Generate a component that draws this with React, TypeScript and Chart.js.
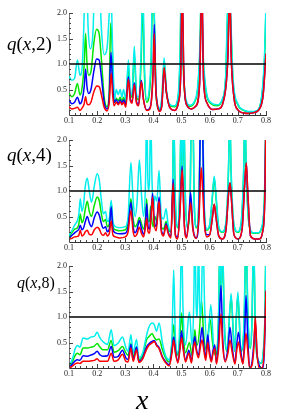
import React, { useEffect, useRef } from "react";
import { Chart, registerables } from "chart.js";
Chart.register(...registerables);

type Pt = [number, number];

const X_MIN = 0.1;
const X_MAX = 0.8;
const Y_MIN = 0;
const Y_MAX = 2;
const X_STEP = 0.1;
const Y_STEP = 0.5;
const REF_LEVEL = 1.0;
const panelParams = ["2", "4", "8"];

// ---------- q(x,2) ----------
const p1Cyan: Pt[] = [[0.100,0.76],[0.110,0.68],[0.120,0.72],[0.130,1.08],[0.139,0.78],[0.147,0.95],[0.153,1.8],[0.157,2.6],[0.163,2.6],[0.168,1.7],[0.176,1.3],[0.185,1.6],[0.192,2.6],[0.208,2.6],[0.215,1.7],[0.225,1.18],[0.235,1.3],[0.243,2.0],[0.248,2.6],[0.255,1.3],[0.262,0.3],[0.268,0.5],[0.275,0.4],[0.282,0.5],[0.288,0.35],[0.294,0.5],[0.302,0.3],[0.311,1.08],[0.318,0.45],[0.324,0.4],[0.332,1.35],[0.340,0.4],[0.347,0.35],[0.356,1.2],[0.362,2.6],[0.368,1.0],[0.376,0.3],[0.385,0.5],[0.392,1.2],[0.397,2.6],[0.403,2.0],[0.410,0.4],[0.420,0.12],[0.430,0.35],[0.438,1.12],[0.446,0.5],[0.460,0.2],[0.475,0.18],[0.488,0.4],[0.495,1.3],[0.499,2.6],[0.505,1.2],[0.514,0.35],[0.530,0.19],[0.545,0.26],[0.558,0.6],[0.566,1.5],[0.570,2.6],[0.576,1.3],[0.587,0.5],[0.605,0.24],[0.625,0.2],[0.645,0.32],[0.657,0.8],[0.663,2.0],[0.668,2.6],[0.674,2.0],[0.683,0.7],[0.700,0.22],[0.720,0.1],[0.740,0.07],[0.758,0.07],[0.775,0.13],[0.787,0.5],[0.795,1.2],[0.800,2.2]];
const p1Green: Pt[] = [[0.100,0.42],[0.110,0.36],[0.120,0.42],[0.130,0.62],[0.139,0.39],[0.147,0.55],[0.154,1.0],[0.159,1.6],[0.164,1.0],[0.170,0.78],[0.178,0.85],[0.188,1.4],[0.198,1.68],[0.207,1.6],[0.215,1.1],[0.225,0.35],[0.235,0.16],[0.243,0.5],[0.248,1.8],[0.253,1.4],[0.258,0.4],[0.262,0.25],[0.268,0.33],[0.275,0.28],[0.282,0.35],[0.288,0.27],[0.294,0.35],[0.302,0.25],[0.311,0.95],[0.318,0.4],[0.324,0.35],[0.332,1.2],[0.340,0.35],[0.347,0.3],[0.356,1.0],[0.362,2.2],[0.368,0.8],[0.376,0.25],[0.385,0.4],[0.392,1.0],[0.397,2.4],[0.403,1.9],[0.410,0.35],[0.420,0.11],[0.430,0.3],[0.438,1.05],[0.446,0.45],[0.460,0.18],[0.475,0.16],[0.488,0.35],[0.495,1.2],[0.499,2.6],[0.505,1.1],[0.514,0.3],[0.530,0.17],[0.545,0.24],[0.558,0.55],[0.566,1.4],[0.570,2.6],[0.576,1.2],[0.587,0.45],[0.605,0.22],[0.625,0.18],[0.645,0.3],[0.657,0.75],[0.663,1.9],[0.668,2.6],[0.674,1.9],[0.683,0.65],[0.700,0.2],[0.720,0.09],[0.740,0.06],[0.758,0.06],[0.775,0.12],[0.787,0.45],[0.795,1.1],[0.800,2.1]];
const p1Blue: Pt[] = [[0.100,0.30],[0.110,0.22],[0.120,0.25],[0.130,0.35],[0.139,0.22],[0.147,0.30],[0.154,0.55],[0.159,0.90],[0.164,0.55],[0.170,0.42],[0.178,0.5],[0.188,0.85],[0.198,1.1],[0.207,1.08],[0.215,0.75],[0.225,0.25],[0.235,0.12],[0.243,0.35],[0.249,1.23],[0.254,0.7],[0.260,0.25],[0.268,0.3],[0.275,0.22],[0.282,0.3],[0.288,0.22],[0.294,0.3],[0.302,0.2],[0.311,0.75],[0.318,0.3],[0.324,0.26],[0.332,0.63],[0.340,0.26],[0.347,0.2],[0.357,0.68],[0.365,0.3],[0.376,0.1],[0.385,0.12],[0.393,0.3],[0.399,0.9],[0.403,1.78],[0.408,0.6],[0.415,0.18],[0.422,0.08],[0.430,0.2],[0.438,0.9],[0.446,0.45],[0.460,0.13],[0.475,0.09],[0.489,0.25],[0.497,0.8],[0.502,2.6],[0.508,0.8],[0.518,0.2],[0.535,0.12],[0.550,0.17],[0.564,0.6],[0.572,2.6],[0.578,0.7],[0.590,0.24],[0.610,0.11],[0.630,0.12],[0.650,0.3],[0.665,1.2],[0.671,2.6],[0.676,1.2],[0.686,0.35],[0.700,0.1],[0.720,0.04],[0.740,0.03],[0.760,0.05],[0.780,0.15],[0.790,0.4],[0.800,1.2]];
const p1Red: Pt[] = [[0.100,0.16],[0.110,0.12],[0.120,0.13],[0.130,0.15],[0.139,0.09],[0.147,0.14],[0.154,0.22],[0.159,0.36],[0.164,0.22],[0.170,0.2],[0.178,0.25],[0.188,0.45],[0.199,0.57],[0.208,0.55],[0.215,0.4],[0.225,0.15],[0.235,0.08],[0.243,0.25],[0.250,0.82],[0.255,0.4],[0.260,0.18],[0.268,0.25],[0.275,0.2],[0.282,0.26],[0.288,0.2],[0.294,0.25],[0.302,0.15],[0.311,0.7],[0.318,0.28],[0.324,0.23],[0.332,0.6],[0.340,0.23],[0.347,0.18],[0.357,0.65],[0.365,0.28],[0.376,0.09],[0.385,0.1],[0.393,0.28],[0.399,0.85],[0.403,1.6],[0.408,0.55],[0.415,0.16],[0.422,0.07],[0.430,0.18],[0.438,0.93],[0.446,0.45],[0.460,0.13],[0.475,0.09],[0.489,0.25],[0.497,0.8],[0.502,2.6],[0.508,0.8],[0.518,0.2],[0.535,0.12],[0.550,0.17],[0.564,0.6],[0.572,2.6],[0.578,0.7],[0.590,0.24],[0.610,0.11],[0.630,0.12],[0.650,0.3],[0.665,1.2],[0.671,2.6],[0.676,1.2],[0.686,0.35],[0.700,0.1],[0.720,0.04],[0.740,0.03],[0.760,0.05],[0.780,0.15],[0.790,0.4],[0.800,1.2]];

// ---------- q(x,4) ----------
const p2Cyan: Pt[] = [[0.100,0.13],[0.110,0.22],[0.120,0.33],[0.130,0.42],[0.135,0.55],[0.140,0.85],[0.146,0.6],[0.152,0.75],[0.158,1.1],[0.165,1.25],[0.172,1.0],[0.180,0.78],[0.190,1.1],[0.200,1.34],[0.208,1.2],[0.215,0.82],[0.222,0.55],[0.230,0.6],[0.236,0.4],[0.243,0.45],[0.250,0.82],[0.256,0.4],[0.265,0.3],[0.280,0.28],[0.300,0.3],[0.310,0.5],[0.320,1.56],[0.328,0.8],[0.335,0.5],[0.342,0.8],[0.350,1.61],[0.358,0.9],[0.365,0.5],[0.372,1.2],[0.376,2.6],[0.381,1.0],[0.386,1.2],[0.390,2.6],[0.395,1.2],[0.400,0.6],[0.405,0.9],[0.412,0.8],[0.420,1.4],[0.428,0.5],[0.436,0.45],[0.445,0.65],[0.452,0.35],[0.462,0.22],[0.468,1.0],[0.472,2.6],[0.477,1.0],[0.486,0.3],[0.494,1.2],[0.499,2.6],[0.503,1.2],[0.508,2.6],[0.513,1.0],[0.520,0.3],[0.530,0.8],[0.535,2.6],[0.540,2.6],[0.545,0.8],[0.553,0.3],[0.562,0.9],[0.568,2.6],[0.574,2.6],[0.580,0.8],[0.590,0.25],[0.600,0.35],[0.610,0.95],[0.616,1.29],[0.622,0.95],[0.632,0.3],[0.645,0.2],[0.658,0.4],[0.667,1.5],[0.671,2.6],[0.676,1.4],[0.686,0.35],[0.700,0.2],[0.712,0.4],[0.721,1.5],[0.725,2.6],[0.730,1.4],[0.740,0.35],[0.755,0.18],[0.770,0.18],[0.785,0.3],[0.795,1.0],[0.800,2.6]];
const p2Green: Pt[] = [[0.100,0.1],[0.110,0.18],[0.120,0.25],[0.130,0.28],[0.135,0.35],[0.140,0.55],[0.146,0.38],[0.152,0.45],[0.158,0.65],[0.165,0.8],[0.172,0.6],[0.180,0.5],[0.190,0.72],[0.200,0.88],[0.208,0.8],[0.215,0.55],[0.222,0.4],[0.230,0.44],[0.236,0.3],[0.243,0.35],[0.250,0.78],[0.256,0.3],[0.265,0.24],[0.280,0.22],[0.300,0.24],[0.310,0.4],[0.320,0.85],[0.328,0.45],[0.335,0.3],[0.342,0.35],[0.350,0.48],[0.358,0.35],[0.365,0.25],[0.372,0.5],[0.376,0.85],[0.381,0.4],[0.386,0.4],[0.390,0.7],[0.395,0.4],[0.400,0.3],[0.405,0.5],[0.412,0.4],[0.420,0.85],[0.428,0.3],[0.436,0.25],[0.445,0.4],[0.452,0.25],[0.462,0.2],[0.468,0.95],[0.472,2.5],[0.477,0.95],[0.486,0.28],[0.494,1.1],[0.499,2.5],[0.503,1.1],[0.508,2.5],[0.513,0.95],[0.520,0.28],[0.530,0.75],[0.535,2.5],[0.540,2.5],[0.545,0.75],[0.553,0.28],[0.562,0.85],[0.568,2.5],[0.574,2.5],[0.580,0.75],[0.590,0.23],[0.600,0.33],[0.610,0.9],[0.616,1.25],[0.622,0.9],[0.632,0.28],[0.645,0.19],[0.658,0.38],[0.667,1.45],[0.671,2.6],[0.676,1.35],[0.686,0.33],[0.700,0.19],[0.712,0.38],[0.721,1.45],[0.725,2.6],[0.730,1.35],[0.740,0.33],[0.755,0.17],[0.770,0.17],[0.785,0.28],[0.795,0.95],[0.800,2.6]];
const p2Blue: Pt[] = [[0.100,0.08],[0.110,0.13],[0.120,0.18],[0.130,0.22],[0.135,0.25],[0.140,0.33],[0.146,0.24],[0.152,0.28],[0.158,0.4],[0.165,0.5],[0.172,0.38],[0.180,0.3],[0.190,0.48],[0.200,0.59],[0.208,0.52],[0.215,0.36],[0.222,0.27],[0.230,0.3],[0.236,0.2],[0.243,0.25],[0.250,0.69],[0.256,0.25],[0.265,0.18],[0.280,0.16],[0.300,0.17],[0.310,0.3],[0.320,0.78],[0.328,0.3],[0.335,0.18],[0.342,0.25],[0.350,0.42],[0.358,0.25],[0.365,0.15],[0.372,0.4],[0.376,0.75],[0.381,0.3],[0.386,0.25],[0.392,0.6],[0.397,0.95],[0.402,0.5],[0.410,0.3],[0.420,0.88],[0.428,0.25],[0.436,0.15],[0.445,0.36],[0.452,0.2],[0.462,0.1],[0.470,1.23],[0.478,0.15],[0.486,0.08],[0.494,0.6],[0.502,1.49],[0.510,0.35],[0.518,0.1],[0.526,0.5],[0.532,0.97],[0.540,0.3],[0.552,0.08],[0.562,0.6],[0.568,2.6],[0.573,2.6],[0.580,0.6],[0.590,0.14],[0.600,0.14],[0.610,0.5],[0.616,0.74],[0.622,0.5],[0.632,0.12],[0.645,0.06],[0.658,0.25],[0.667,0.95],[0.672,1.16],[0.677,0.85],[0.686,0.15],[0.700,0.06],[0.715,0.25],[0.724,1.1],[0.730,1.55],[0.735,1.0],[0.745,0.12],[0.760,0.06],[0.775,0.06],[0.788,0.2],[0.796,0.9],[0.800,2.6]];
const p2Red: Pt[] = [[0.100,0.05],[0.110,0.07],[0.120,0.1],[0.130,0.11],[0.135,0.13],[0.140,0.23],[0.146,0.12],[0.152,0.14],[0.158,0.2],[0.165,0.23],[0.172,0.15],[0.180,0.14],[0.190,0.24],[0.200,0.29],[0.208,0.25],[0.215,0.16],[0.222,0.13],[0.230,0.18],[0.236,0.12],[0.243,0.16],[0.250,0.41],[0.256,0.14],[0.265,0.1],[0.280,0.08],[0.300,0.1],[0.310,0.2],[0.320,0.62],[0.328,0.2],[0.335,0.11],[0.342,0.16],[0.350,0.29],[0.358,0.16],[0.365,0.1],[0.372,0.3],[0.376,0.46],[0.381,0.2],[0.386,0.17],[0.392,0.5],[0.397,0.88],[0.402,0.4],[0.410,0.22],[0.420,0.8],[0.428,0.2],[0.436,0.12],[0.445,0.33],[0.452,0.17],[0.462,0.08],[0.470,1.15],[0.478,0.12],[0.486,0.06],[0.494,0.55],[0.502,1.42],[0.510,0.3],[0.518,0.08],[0.526,0.45],[0.532,0.77],[0.540,0.25],[0.552,0.07],[0.562,0.5],[0.570,1.46],[0.575,1.0],[0.582,0.3],[0.590,0.1],[0.600,0.14],[0.610,0.5],[0.616,0.74],[0.622,0.5],[0.632,0.12],[0.645,0.06],[0.658,0.25],[0.667,0.95],[0.672,1.16],[0.677,0.85],[0.686,0.15],[0.700,0.06],[0.715,0.25],[0.724,1.1],[0.730,1.55],[0.735,1.0],[0.745,0.12],[0.760,0.06],[0.775,0.06],[0.788,0.2],[0.796,0.9],[0.800,2.6]];

// ---------- q(x,8) ----------
const p3Cyan: Pt[] = [[0.100,0.05],[0.108,0.12],[0.115,0.23],[0.122,0.38],[0.130,0.44],[0.139,0.41],[0.150,0.59],[0.165,0.57],[0.180,0.61],[0.190,0.62],[0.200,0.7],[0.210,0.59],[0.220,0.52],[0.237,0.46],[0.250,0.75],[0.260,0.44],[0.275,0.49],[0.290,0.61],[0.302,0.4],[0.310,0.33],[0.320,0.65],[0.328,0.3],[0.340,0.56],[0.348,0.2],[0.362,0.3],[0.376,0.65],[0.385,0.82],[0.395,0.88],[0.403,0.85],[0.411,0.72],[0.420,0.88],[0.432,0.49],[0.444,0.23],[0.456,0.16],[0.466,0.6],[0.472,1.92],[0.478,0.6],[0.487,0.3],[0.495,1.2],[0.500,2.6],[0.505,1.2],[0.514,0.45],[0.528,1.1],[0.537,0.45],[0.543,1.2],[0.547,2.6],[0.552,1.2],[0.556,1.0],[0.560,2.6],[0.565,1.0],[0.570,1.2],[0.576,2.6],[0.582,1.2],[0.592,0.45],[0.604,1.24],[0.615,0.4],[0.625,0.35],[0.632,1.2],[0.636,2.6],[0.641,1.5],[0.645,2.6],[0.652,0.9],[0.662,0.35],[0.676,1.46],[0.688,0.35],[0.700,1.49],[0.711,0.35],[0.722,0.9],[0.729,2.6],[0.736,1.0],[0.744,0.4],[0.750,0.9],[0.756,2.6],[0.762,0.8],[0.772,0.15],[0.782,0.1],[0.790,0.3],[0.796,1.0],[0.800,2.6]];
const p3Green: Pt[] = [[0.100,0.05],[0.108,0.08],[0.115,0.16],[0.122,0.25],[0.130,0.29],[0.139,0.26],[0.150,0.39],[0.165,0.39],[0.180,0.41],[0.190,0.43],[0.200,0.48],[0.210,0.41],[0.220,0.36],[0.237,0.36],[0.250,0.54],[0.260,0.31],[0.275,0.34],[0.290,0.42],[0.302,0.3],[0.310,0.25],[0.320,0.48],[0.328,0.22],[0.340,0.41],[0.348,0.16],[0.362,0.25],[0.376,0.56],[0.385,0.62],[0.395,0.67],[0.403,0.6],[0.411,0.55],[0.420,0.57],[0.432,0.36],[0.444,0.19],[0.456,0.12],[0.466,0.5],[0.472,0.85],[0.478,0.45],[0.487,0.25],[0.495,0.7],[0.500,1.08],[0.505,0.7],[0.514,0.3],[0.528,0.5],[0.537,0.25],[0.543,0.5],[0.547,0.75],[0.552,0.5],[0.556,0.45],[0.563,0.7],[0.571,1.32],[0.578,0.7],[0.588,0.35],[0.597,0.8],[0.602,0.95],[0.610,0.5],[0.620,0.25],[0.632,1.1],[0.636,2.5],[0.641,1.4],[0.645,2.5],[0.652,0.85],[0.662,0.33],[0.676,1.4],[0.688,0.33],[0.700,1.43],[0.711,0.33],[0.722,0.85],[0.729,2.5],[0.736,0.95],[0.744,0.38],[0.750,0.85],[0.756,2.5],[0.762,0.75],[0.772,0.14],[0.782,0.09],[0.790,0.28],[0.796,0.95],[0.800,2.6]];
const p3Blue: Pt[] = [[0.100,0.03],[0.108,0.05],[0.115,0.1],[0.122,0.14],[0.130,0.16],[0.139,0.15],[0.150,0.24],[0.165,0.23],[0.180,0.26],[0.190,0.28],[0.200,0.33],[0.210,0.26],[0.220,0.23],[0.237,0.24],[0.250,0.42],[0.260,0.21],[0.275,0.23],[0.290,0.35],[0.302,0.2],[0.310,0.17],[0.320,0.46],[0.328,0.16],[0.340,0.41],[0.348,0.13],[0.362,0.2],[0.376,0.42],[0.385,0.48],[0.395,0.52],[0.403,0.54],[0.411,0.46],[0.420,0.4],[0.432,0.22],[0.444,0.12],[0.456,0.06],[0.466,0.35],[0.472,0.61],[0.478,0.35],[0.487,0.12],[0.495,0.45],[0.500,0.73],[0.505,0.45],[0.514,0.15],[0.526,0.35],[0.535,0.12],[0.541,0.4],[0.547,0.62],[0.552,0.4],[0.560,0.25],[0.568,0.6],[0.573,0.8],[0.579,0.45],[0.586,0.2],[0.593,0.65],[0.598,0.4],[0.606,0.15],[0.612,0.35],[0.618,0.45],[0.624,0.1],[0.632,0.6],[0.640,1.62],[0.646,0.6],[0.655,0.15],[0.665,0.4],[0.672,0.8],[0.680,0.4],[0.690,0.1],[0.695,0.4],[0.702,0.7],[0.710,0.35],[0.718,0.1],[0.724,0.6],[0.729,1.42],[0.735,0.6],[0.742,0.0],[0.750,0.1],[0.757,0.5],[0.762,0.9],[0.768,0.3],[0.776,0.05],[0.786,0.0],[0.793,0.2],[0.800,1.5]];
const p3Red: Pt[] = [[0.100,0.01],[0.108,0.02],[0.115,0.05],[0.122,0.08],[0.130,0.1],[0.139,0.09],[0.150,0.13],[0.165,0.13],[0.180,0.14],[0.190,0.15],[0.200,0.18],[0.210,0.13],[0.220,0.13],[0.237,0.13],[0.250,0.29],[0.260,0.13],[0.275,0.16],[0.290,0.27],[0.302,0.13],[0.310,0.12],[0.320,0.39],[0.328,0.13],[0.340,0.36],[0.348,0.11],[0.362,0.18],[0.376,0.37],[0.385,0.45],[0.395,0.49],[0.403,0.52],[0.411,0.44],[0.420,0.38],[0.432,0.2],[0.444,0.1],[0.456,0.04],[0.466,0.3],[0.472,0.55],[0.478,0.3],[0.487,0.1],[0.495,0.4],[0.500,0.6],[0.505,0.4],[0.514,0.12],[0.526,0.29],[0.535,0.1],[0.541,0.35],[0.547,0.51],[0.552,0.35],[0.560,0.2],[0.568,0.45],[0.573,0.55],[0.579,0.35],[0.586,0.15],[0.593,0.5],[0.598,0.3],[0.606,0.12],[0.612,0.3],[0.618,0.38],[0.624,0.08],[0.632,0.4],[0.640,1.06],[0.646,0.45],[0.655,0.12],[0.665,0.3],[0.672,0.55],[0.680,0.3],[0.690,0.08],[0.695,0.3],[0.702,0.51],[0.710,0.25],[0.718,0.08],[0.724,0.4],[0.729,0.68],[0.735,0.35],[0.742,0.0],[0.750,0.05],[0.757,0.4],[0.762,1.0],[0.768,0.3],[0.776,0.0],[0.786,0.0],[0.793,0.3],[0.800,1.52]];

const refLine: Pt[] = [[X_MIN, REF_LEVEL], [X_MAX, REF_LEVEL]];

const COLORS = { cyan: "#00eeee", green: "#00e600", blue: "#0000ff", red: "#ff0000", ref: "#000000" };
const SERIF = '"Liberation Serif", "DejaVu Serif", "Times New Roman", serif';

interface PanelData { param: string; cyan: Pt[]; green: Pt[]; blue: Pt[]; red: Pt[]; }
const panels: PanelData[] = [
  { param: panelParams[0], cyan: p1Cyan, green: p1Green, blue: p1Blue, red: p1Red },
  { param: panelParams[1], cyan: p2Cyan, green: p2Green, blue: p2Blue, red: p2Red },
  { param: panelParams[2], cyan: p3Cyan, green: p3Green, blue: p3Blue, red: p3Red },
];

const toXY = (pts: Pt[]) => pts.map(([x, y]) => ({ x, y }));

const inwardTicks = {
  id: "inwardTicks",
  afterDraw(chart: any) {
    const { ctx, chartArea, scales } = chart;
    const xs = scales.x, ys = scales.y;
    ctx.save();
    ctx.strokeStyle = "#444";
    ctx.lineWidth = 1;
    ctx.beginPath();
    for (let i = 0; i <= 35; i++) {
      const v = X_MIN + i * 0.02;
      const px = Math.round(xs.getPixelForValue(v)) + 0.5;
      const len = i % 5 === 0 ? 4 : 2;
      ctx.moveTo(px, chartArea.bottom);
      ctx.lineTo(px, chartArea.bottom - len);
    }
    for (let i = 1; i <= 20; i++) {
      const v = i * 0.1;
      const py = Math.round(ys.getPixelForValue(v)) + 0.5;
      const len = i % 5 === 0 ? 4 : 2;
      ctx.moveTo(chartArea.left, py);
      ctx.lineTo(chartArea.left + len, py);
    }
    ctx.stroke();
    ctx.restore();
  },
};

function Panel({ data, top }: { data: PanelData; top: number }) {
  const ref = useRef<HTMLCanvasElement | null>(null);
  useEffect(() => {
    if (!ref.current) return;
    const mk = (pts: Pt[], color: string, width = 1.5) => ({
      data: toXY(pts),
      borderColor: color,
      borderWidth: width,
      pointRadius: 0,
      fill: false,
      cubicInterpolationMode: "monotone" as const,
    });
    const chart = new Chart(ref.current, {
      type: "line",
      data: {
        datasets: [
          { ...mk(refLine, COLORS.ref, 1.5), cubicInterpolationMode: "default" as const, tension: 0 },
          mk(data.red, COLORS.red),
          mk(data.blue, COLORS.blue),
          mk(data.cyan, COLORS.cyan),
          mk(data.green, COLORS.green),
        ],
      },
      options: {
        animation: false,
        responsive: false,
        devicePixelRatio: 1,
        layout: { padding: { top: 13, right: 17, bottom: 0, left: 0 } },
        plugins: { legend: { display: false }, tooltip: { enabled: false } },
        scales: {
          x: {
            type: "linear",
            min: X_MIN,
            max: X_MAX,
            grid: { display: false, drawTicks: false },
            border: { display: true, color: "#333", width: 1 },
            ticks: {
              stepSize: X_STEP,
              autoSkip: false,
              maxRotation: 0,
              padding: 1,
              color: "#222",
              font: { family: SERIF, size: 8 },
              callback: (v: any) => Number(v).toFixed(1),
            },
            afterFit: (s: any) => { s.height = 15; },
          },
          y: {
            type: "linear",
            min: Y_MIN,
            max: Y_MAX,
            grid: { display: false, drawTicks: false },
            border: { display: true, color: "#777", width: 1 },
            ticks: {
              stepSize: Y_STEP,
              padding: 2,
              color: "#222",
              font: { family: SERIF, size: 8 },
              callback: (v: any) => (Number(v) === 0 ? "" : Number(v).toFixed(1)),
            },
            afterFit: (s: any) => { s.width = 69; },
          },
        },
      },
      plugins: [inwardTicks],
    });
    return () => chart.destroy();
  }, [data]);
  return (
    <canvas
      ref={ref}
      width={283}
      height={130}
      style={{ position: "absolute", left: 0, top, width: 283, height: 130 }}
    />
  );
}

function QLabel({ param, top, left, size }: { param: string; top: number; left: number; size: number }) {
  return (
    <div
      style={{
        position: "absolute",
        left,
        top,
        fontFamily: SERIF,
        fontSize: size,
        lineHeight: 1,
        color: "#000",
        whiteSpace: "nowrap",
      }}
    >
      <i>q</i>(<i>x</i>,{param})
    </div>
  );
}

export default function App() {
  const tops = [0, 127, 253];
  return (
    <div style={{ position: "absolute", left: 0, top: 0, width: 283, height: 412, background: "#fff", overflow: "hidden" }}>
      {panels.map((p, i) => (
        <Panel key={i} data={p} top={tops[i]} />
      ))}
      <QLabel param={panels[0].param} top={34} left={7} size={19} />
      <QLabel param={panels[1].param} top={145} left={7} size={19} />
      <QLabel param={panels[2].param} top={275} left={17} size={16} />
      <div
        style={{
          position: "absolute",
          left: 136,
          top: 386,
          fontFamily: SERIF,
          fontStyle: "italic",
          fontSize: 28,
          lineHeight: 1,
          color: "#000",
        }}
      >
        x
      </div>
    </div>
  );
}
